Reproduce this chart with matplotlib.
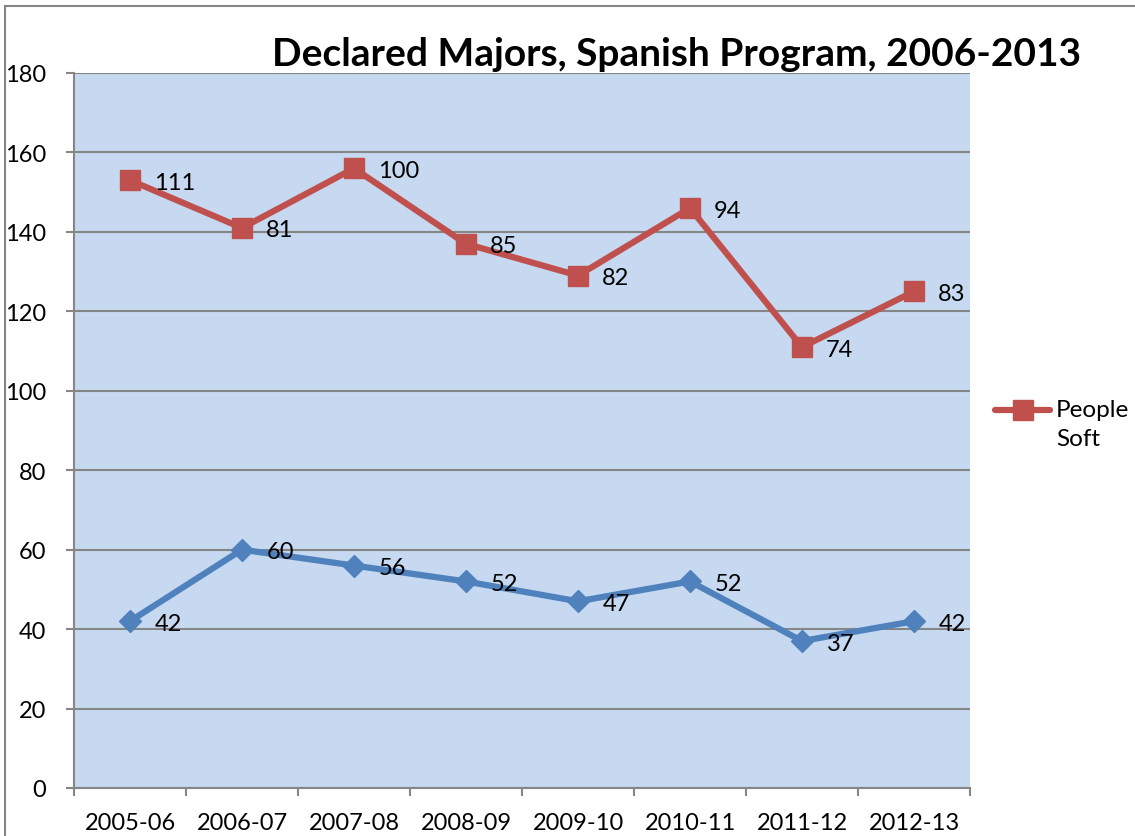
import matplotlib
matplotlib.use("Agg")
import matplotlib.pyplot as plt
from matplotlib.patches import Rectangle
from matplotlib.lines import Line2D

categories = ["2005-06", "2006-07", "2007-08", "2008-09", "2009-10", "2010-11", "2011-12", "2012-13"]
series_blue = [42, 60, 56, 52, 47, 52, 37, 42]
series_people_soft = [111, 81, 100, 85, 82, 94, 74, 83]
title = "Declared Majors, Spanish Program, 2006-2013"
legend_label = "People\nSoft"

plt.rcParams['font.family'] = ['Lato', 'DejaVu Sans']

W, H = 1135, 837
fig = plt.figure(figsize=(W / 100, H / 100), dpi=100)
fig.patch.set_facecolor('white')

# outer chart border
fig.add_artist(Rectangle((5 / W, -0.01), 1.02, 1 - 7 / H + 0.01, transform=fig.transFigure,
                         fill=False, edgecolor='#868686', linewidth=1.5))

left, right, top, bottom = 74, 970, 74, 789
ax = fig.add_axes([left / W, (H - bottom) / H, (right - left) / W, (bottom - top) / H])
ax.set_facecolor('#C6D9F0')

x = list(range(len(categories)))
stacked = [b + r for b, r in zip(series_blue, series_people_soft)]

blue = '#4F81BD'
red = '#C0504D'
LW = 4.5
ax.plot(x, series_blue, color=blue, linewidth=LW, marker='D', markersize=11.5,
        label='_nolegend_', zorder=3)
ax.plot(x, stacked, color=red, linewidth=LW, marker='s', markersize=14,
        label=legend_label, zorder=3)

FS = 17
for xi, yv, lab in zip(x, series_blue, series_blue):
    ax.annotate(str(lab), (xi, yv), xytext=(25, -2), textcoords='offset pixels',
                ha='left', va='center', fontsize=FS, color='black', zorder=4)
for xi, yv, lab in zip(x, stacked, series_people_soft):
    ax.annotate(str(lab), (xi, yv), xytext=(24, -2), textcoords='offset pixels',
                ha='left', va='center', fontsize=FS, color='black', zorder=4)

ax.set_xlim(-0.5, len(categories) - 0.5)
ax.set_ylim(0, 180)
ax.set_yticks(range(0, 181, 20))
ax.set_xticks(x)
ax.set_xticklabels(categories)
ax.set_xticks([i - 0.5 for i in range(len(categories) + 1)], minor=True)
ax.tick_params(axis='x', which='major', length=0, pad=17, labelsize=FS)
ax.tick_params(axis='x', which='minor', length=6, width=1.5, color='#868686', direction='out')
ax.tick_params(axis='y', length=6, width=1.5, color='#868686', direction='out', pad=14, labelsize=FS)

ax.grid(axis='y', color='#868686', linewidth=1.5, zorder=1)
ax.set_axisbelow(True)
for s in ['top', 'right']:
    ax.spines[s].set_visible(False)
for s in ['left', 'bottom']:
    ax.spines[s].set_color('#868686')
    ax.spines[s].set_linewidth(1.5)

fig.text(677 / W, 1 - 55 / H, title, ha='center', va='center', fontsize=28, fontweight='bold')

# legend (manual, Excel style: handle aligned with the first text line)
ly = 1 - 411 / H
fig.add_artist(Line2D([995 / W, 1050 / W], [ly, ly], transform=fig.transFigure,
                      color=red, linewidth=LW, solid_capstyle='round'))
fig.add_artist(Line2D([1022.5 / W], [ly], transform=fig.transFigure, color=red,
                      marker='s', markersize=14, linestyle='none'))
fig.text(1056 / W, 1 - 400 / H, legend_label, ha='left', va='top', fontsize=17.5,
         linespacing=1.5)

fig.savefig('out.png', dpi=100)
